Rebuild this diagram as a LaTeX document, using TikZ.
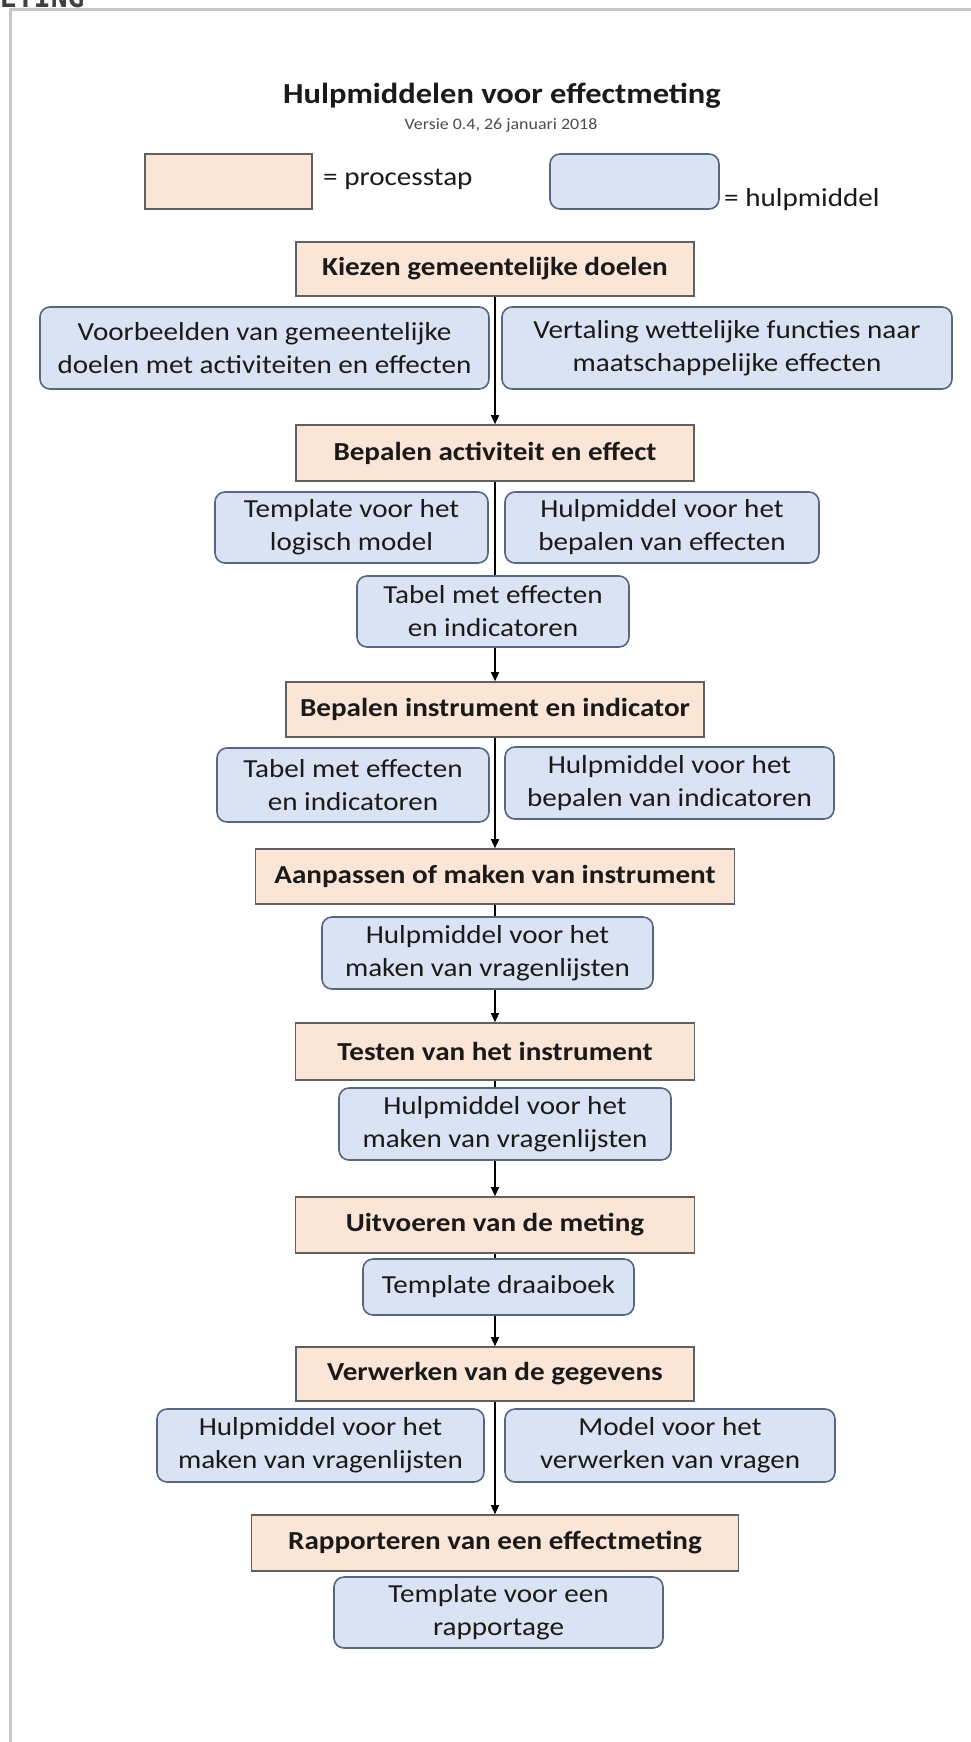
\documentclass[tikz,border=0pt]{standalone}
\usepackage{fontspec}
\setmainfont{Carlito}[FakeStretch=1.12]
\newfontfamily\kopfont{DejaVu Sans Mono}
\usetikzlibrary{arrows.meta}
\definecolor{stapvul}{HTML}{FBE5D6}
\definecolor{staprand}{HTML}{606060}
\definecolor{middelvul}{HTML}{DAE3F3}
\definecolor{middelrand}{HTML}{56677F}
\definecolor{kader}{HTML}{C8C8C8}
\definecolor{tekst}{HTML}{1A1A1A}
\tikzset{
	stap/.style = {draw=staprand, fill=stapvul, line width=1.6pt, inner sep=0pt, text=tekst, font=\fontsize{26}{33}\selectfont\bfseries},
	middel/.style = {draw=middelrand, fill=middelvul, line width=1.6pt, rounded corners=10pt, inner sep=0pt, align=center, text=tekst, font=\fontsize{26}{33}\selectfont},
	los/.style = {inner sep=0pt, text=tekst, font=\fontsize{26}{33}\selectfont},
	pijl/.style = {-{Triangle[width=8pt,length=9pt]}, line width=1.3pt},
	lijn/.style = {line width=1.3pt}
}

\begin{document}
\begin{tikzpicture}[x=1pt, y=-1pt]
	\useasboundingbox[fill=white] (0,0) rectangle (971,1742);
	\clip (0,0) rectangle (971,1742);
	\draw[kader, line width=3pt] (10,1742) -- (10,10) -- (971,10);
	\node[anchor=base west, inner sep=0pt, text=black!75, font=\kopfont\bfseries\fontsize{28}{30}\selectfont] (kop) at (0,8) {ETING};

	\node[anchor=base, inner sep=0pt, text=tekst, font=\fontsize{29}{35}\selectfont\bfseries] (titel) at (502,104) {Hulpmiddelen voor effectmeting};
	\node[anchor=base, inner sep=0pt, text=black!70, font=\fontsize{16}{19}\selectfont] (versie) at (501,129) {Versie 0.4, 26 januari 2018};

	\node[stap, minimum width=167pt, minimum height=55pt] (legstap) at (228.5,181.5) {};
	\node[los, anchor=west] (legstaptekst) at (323,179) {= processtap};
	\node[middel, minimum width=169pt, minimum height=55pt] (legmiddel) at (634.5,181.5) {};
	\node[los, anchor=west] (legmiddeltekst) at (724,200) {= hulpmiddel};

	\node[stap, minimum width=398pt, minimum height=54pt] (s1) at (495,269) {Kiezen gemeentelijke doelen};
	\node[middel, minimum width=449pt, minimum height=82pt] (h1a) at (264.5,348) {Voorbeelden van gemeentelijke\\doelen met activiteiten en effecten};
	\node[middel, minimum width=450pt, minimum height=82pt] (h1b) at (727,348) {Vertaling wettelijke functies naar\\maatschappelijke effecten};

	\node[stap, minimum width=398pt, minimum height=56pt] (s2) at (495,453) {Bepalen activiteit en effect};
	\node[middel, minimum width=273pt, minimum height=71pt] (h2a) at (351.5,527.5) {Template voor het\\logisch model};
	\node[middel, minimum width=314pt, minimum height=71pt] (h2b) at (662,527.5) {Hulpmiddel voor het\\bepalen van effecten};
	\node[middel, minimum width=272pt, minimum height=71pt] (h2c) at (493,611.5) {Tabel met effecten\\en indicatoren};

	\node[stap, minimum width=418pt, minimum height=55pt] (s3) at (495,709.5) {Bepalen instrument en indicator};
	\node[middel, minimum width=272pt, minimum height=74pt] (h3a) at (353,785) {Tabel met effecten\\en indicatoren};
	\node[middel, minimum width=329pt, minimum height=72pt] (h3b) at (669.5,783) {Hulpmiddel voor het\\bepalen van indicatoren};

	\node[stap, minimum width=479pt, minimum height=55pt] (s4) at (495,876.5) {Aanpassen of maken van instrument};
	\node[middel, minimum width=331pt, minimum height=72pt] (h4) at (487.5,953) {Hulpmiddel voor het\\maken van vragenlijsten};

	\node[stap, minimum width=399pt, minimum height=57pt] (s5) at (495,1051.5) {Testen van het instrument};
	\node[middel, minimum width=332pt, minimum height=72pt] (h5) at (505,1124) {Hulpmiddel voor het\\maken van vragenlijsten};

	\node[stap, minimum width=399pt, minimum height=56pt] (s6) at (495,1225) {Uitvoeren van de meting};
	\node[middel, minimum width=271pt, minimum height=56pt] (h6) at (498.5,1287) {Template draaiboek};

	\node[stap, minimum width=398pt, minimum height=54pt] (s7) at (495,1374) {Verwerken van de gegevens};
	\node[middel, minimum width=327pt, minimum height=73pt] (h7a) at (320.5,1445.5) {Hulpmiddel voor het\\maken van vragenlijsten};
	\node[middel, minimum width=330pt, minimum height=73pt] (h7b) at (670,1445.5) {Model voor het\\verwerken van vragen};

	\node[stap, minimum width=487pt, minimum height=56pt] (s8) at (495,1543) {Rapporteren van een effectmeting};
	\node[middel, minimum width=329pt, minimum height=71pt] (h8) at (498.5,1612.5) {Template voor een\\rapportage};

	\foreach \a/\b in {s1/s2, s3/s4, s7/s8}
		\draw[pijl] (\a) -- (\b);
	\foreach \a/\b in {s2/h2c, s4/h4, s5/h5, s6/h6}
		\draw[lijn] (\a) -- (\a |- \b.north);
	\foreach \a/\b in {h2c/s3, h4/s5, h5/s6, h6/s7}
		\draw[pijl] (\b |- \a.south) -- (\b);
\end{tikzpicture}
\end{document}
